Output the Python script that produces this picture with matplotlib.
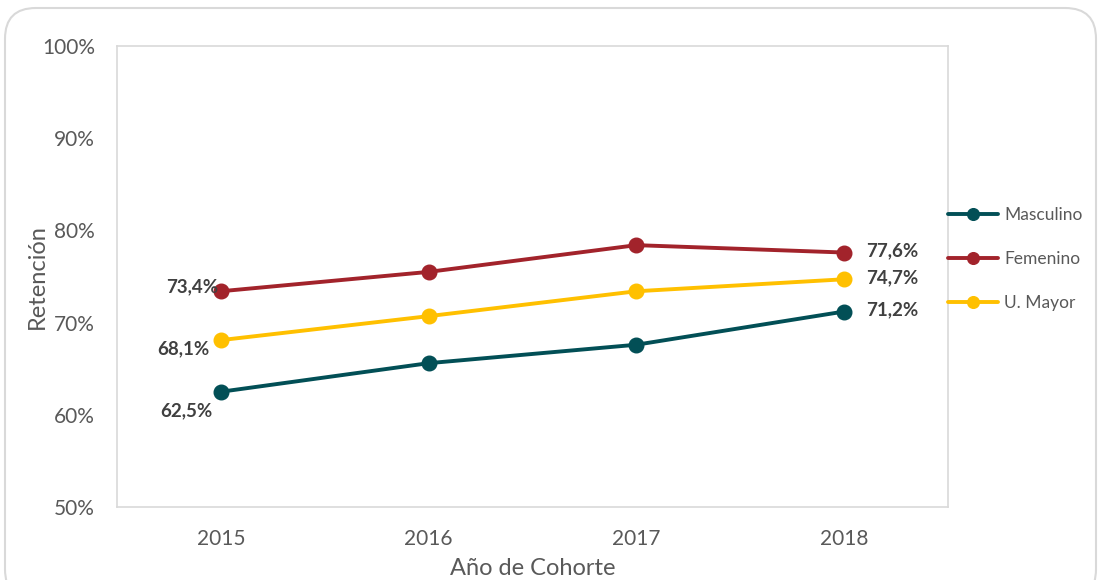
import matplotlib
matplotlib.use("Agg")
import matplotlib.pyplot as plt
from matplotlib.patches import FancyBboxPatch
from matplotlib.ticker import FuncFormatter

years = ["2015", "2016", "2017", "2018"]
masculino = [62.5, 65.6, 67.6, 71.2]
femenino = [73.4, 75.5, 78.4, 77.6]
u_mayor = [68.1, 70.7, 73.4, 74.7]
series_names = ["Masculino", "Femenino", "U. Mayor"]
colors = ["#024F56", "#A2232B", "#FFC000"]

plt.rcParams['font.family'] = ['Lato', 'DejaVu Sans']

W, H = 1101, 580
fig = plt.figure(figsize=(W / 100, H / 100), dpi=100)
border = FancyBboxPatch((5 / W, -20 / H), 1091 / W, (H - 8 + 20) / H,
                        boxstyle="round,pad=0,rounding_size=0.028",
                        transform=fig.transFigure, facecolor="none", edgecolor="#D9D9D9",
                        linewidth=1.5, mutation_aspect=W / H, zorder=-5)
fig.patches.append(border)

ax = fig.add_axes([117 / W, 73 / H, 831 / W, 461 / H])
ax.set_facecolor("none")
x = list(range(len(years)))
for vals, name, c in zip([masculino, femenino, u_mayor], series_names, colors):
    ax.plot(x, vals, color=c, linewidth=2.8, marker="o", markersize=10.5, label=name,
            solid_capstyle="round")

ax.set_xlim(-0.5, 3.5)
ax.set_ylim(50, 100)
ax.set_yticks([50, 60, 70, 80, 90, 100])
ax.yaxis.set_major_formatter(FuncFormatter(lambda v, p: f"{v:.0f}%"))
ax.set_xticks(x)
ax.set_xticklabels(years)
for s in ax.spines.values():
    s.set_color("#D9D9D9")
    s.set_linewidth(1.2)
ax.tick_params(axis="both", length=0, labelsize=15, colors="#595959")
ax.tick_params(axis="x", pad=16)
ax.tick_params(axis="y", pad=16)

ax.set_ylabel("Retención", fontsize=17, color="#595959")
ax.yaxis.set_label_coords(-0.083, 0.5)
ax.set_xlabel("Año de Cohorte", fontsize=17, color="#595959", labelpad=6)

lblc = "#404040"
fmt = lambda v: f"{v:.1f}%".replace(".", ",")
fs = 13.5
ax.annotate(fmt(femenino[0]), (0, femenino[0]), xytext=(-2, 3), textcoords="offset points",
            ha="right", va="center", fontsize=fs, fontweight="bold", color=lblc)
ax.annotate(fmt(u_mayor[0]), (0, u_mayor[0]), xytext=(-8, -6), textcoords="offset points",
            ha="right", va="center", fontsize=fs, fontweight="bold", color=lblc)
ax.annotate(fmt(masculino[0]), (0, masculino[0]), xytext=(-6, -14), textcoords="offset points",
            ha="right", va="center", fontsize=fs, fontweight="bold", color=lblc)
for vals in [femenino, u_mayor, masculino]:
    ax.annotate(fmt(vals[-1]), (3, vals[-1]), xytext=(16, 1), textcoords="offset points",
                ha="left", va="center", fontsize=fs, fontweight="bold", color=lblc)

leg = ax.legend(loc="center left", bbox_to_anchor=(1.0, 0.538), frameon=False,
                fontsize=12.5, labelcolor="#595959", handlelength=2.9, handletextpad=0.35,
                labelspacing=1.6, borderaxespad=0, borderpad=0, markerscale=0.8)

fig.savefig("out.png", dpi=100)
